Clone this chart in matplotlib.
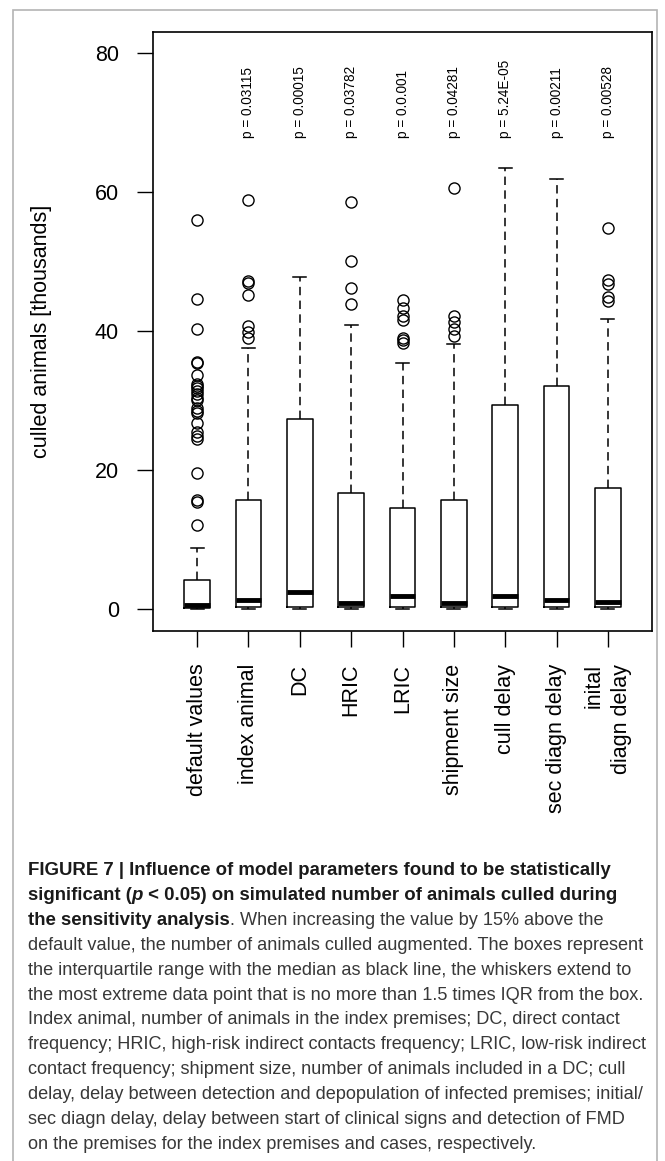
import matplotlib
matplotlib.use("Agg")
import matplotlib.pyplot as plt
from matplotlib.patches import Rectangle

plt.rcParams["font.family"] = ["Liberation Sans", "DejaVu Sans"]

W, H = 665, 1161

# box statistics (thousands of animals)
labels = ["default values", "index animal", "DC", "HRIC", "LRIC",
          "shipment size", "cull delay", "sec diagn delay", "inital\ndiagn delay"]
whislo = [0.0, 0.0, 0.0, 0.0, 0.0, 0.0, 0.0, 0.0, 0.0]
q1 = [0.1, 0.2, 0.3, 0.3, 0.3, 0.3, 0.3, 0.3, 0.3]
med = [0.6, 1.3, 2.4, 0.9, 1.8, 0.8, 1.9, 1.3, 1.0]
q3 = [4.1, 15.7, 27.3, 16.6, 14.5, 15.7, 29.3, 32.1, 17.4]
whishi = [8.7, 37.5, 47.7, 40.8, 35.4, 38.1, 63.4, 61.9, 41.7]
fliers = [
    [12.1, 15.4, 15.7, 19.6, 24.5, 24.9, 25.4, 26.8, 28.1, 28.5, 28.9, 30.1,
     30.4, 30.9, 31.3, 31.7, 32.0, 32.4, 33.7, 35.3, 35.5, 40.2, 44.6, 55.9],
    [38.9, 39.8, 40.7, 45.1, 46.9, 47.2, 58.8],
    [],
    [43.9, 46.2, 50.0, 58.5],
    [38.2, 38.7, 39.0, 41.6, 42.1, 43.3, 44.5],
    [39.2, 40.2, 41.2, 42.2, 60.6],
    [],
    [],
    [44.3, 44.9, 46.7, 47.3, 54.8],
]
p_values = ["", "p = 0.03115", "p = 0.00015", "p = 0.03782", "p = 0.0.001",
            "p = 0.04281", "p = 5.24E-05", "p = 0.00211", "p = 0.00528"]

caption = [
    [("FIGURE 7 | Influence of model parameters found to be statistically", "bold", "normal")],
    [("significant (", "bold", "normal"), ("p", "bold", "italic"),
     (" < 0.05) on simulated number of animals culled during", "bold", "normal")],
    [("the sensitivity analysis", "bold", "normal"),
     (". When increasing the value by 15% above the", "normal", "normal")],
    [("default value, the number of animals culled augmented. The boxes represent", "normal", "normal")],
    [("the interquartile range with the median as black line, the whiskers extend to", "normal", "normal")],
    [("the most extreme data point that is no more than 1.5 times IQR from the box.", "normal", "normal")],
    [("Index animal, number of animals in the index premises; DC, direct contact", "normal", "normal")],
    [("frequency; HRIC, high-risk indirect contacts frequency; LRIC, low-risk indirect", "normal", "normal")],
    [("contact frequency; shipment size, number of animals included in a DC; cull", "normal", "normal")],
    [("delay, delay between detection and depopulation of infected premises; initial/", "normal", "normal")],
    [("sec diagn delay, delay between start of clinical signs and detection of FMD", "normal", "normal")],
    [("on the premises for the index premises and cases, respectively.", "normal", "normal")],
]

fig = plt.figure(figsize=(W / 100, H / 100), dpi=100)
ax = fig.add_axes([153 / W, 1 - 631 / H, (652 - 153) / W, (631 - 32) / H])

stats = []
for i in range(len(labels)):
    stats.append(dict(label=labels[i], whislo=whislo[i], q1=q1[i], med=med[i],
                      q3=q3[i], whishi=whishi[i], fliers=fliers[i]))

positions = list(range(1, len(labels) + 1))
ax.bxp(stats, positions=positions, widths=0.5,
       boxprops=dict(color="black", linewidth=1.1),
       medianprops=dict(color="black", linewidth=3.5, solid_capstyle="butt"),
       whiskerprops=dict(color="black", linewidth=1.1, linestyle=(0, (5.5, 3.5))),
       capprops=dict(color="black", linewidth=1.1),
       flierprops=dict(marker="o", markerfacecolor="none", markeredgecolor="black",
                       markersize=8, markeredgewidth=1.0))

for pos, txt in zip(positions, p_values):
    if txt:
        ax.text(pos, 67.7, txt, rotation=90, ha="center", va="bottom", fontsize=9.8)

ax.set_xlim(0.14, 9.86)
ax.set_ylim(-3.2, 83)
ax.set_yticks([0, 20, 40, 60, 80])
ax.set_xticks(positions)
ax.set_xticklabels(labels, rotation=90, fontsize=15.5, va="top", ha="center",
                   multialignment="right", linespacing=1.35)
ax.tick_params(axis="both", length=11.5, width=1.0, labelsize=15.5)
ax.tick_params(axis="y", pad=13)
ax.tick_params(axis="x", pad=12)
for s in ax.spines.values():
    s.set_linewidth(1.2)

ax.set_ylabel("culled animals [thousands]", fontsize=15.5)
ax.yaxis.label.set_rotation_mode("default")
ax.yaxis.label.set_va("center")
ax.yaxis.label.set_ha("center")
ax.yaxis.set_label_coords((42 - 153) / (652 - 153), 0.5)

# grey frame around the whole figure panel
fig.add_artist(Rectangle((13 / W, -0.02), (657 - 13) / W, 1.02 - 10 / H,
                         transform=fig.transFigure, fill=False,
                         edgecolor="#b4b4b4", linewidth=1.2))

# caption, drawn run by run on common baselines
renderer = fig.canvas.get_renderer()
cap_fs = {"bold": 13.4, "normal": 13.1}
x0, base0, step = 28, 875, 24.9


def run_width(txt, weight, style):
    fs = cap_fs[weight]
    t = fig.text(0, 0, "x" + txt + "x", fontsize=fs, fontweight=weight, fontstyle=style)
    w = t.get_window_extent(renderer).width
    t.remove()
    t = fig.text(0, 0, "xx", fontsize=fs, fontweight=weight, fontstyle=style)
    w2 = t.get_window_extent(renderer).width
    t.remove()
    return w - w2


for k, line in enumerate(caption):
    x = x0
    y = base0 + k * step
    for txt, weight, style in line:
        color = "#1a1a1a" if weight == "bold" else "#383838"
        fig.text(x / W, 1 - y / H, txt, fontsize=cap_fs[weight], fontweight=weight,
                 fontstyle=style, ha="left", va="baseline", color=color)
        x += run_width(txt, weight, style)

fig.savefig("out.png", dpi=100)
